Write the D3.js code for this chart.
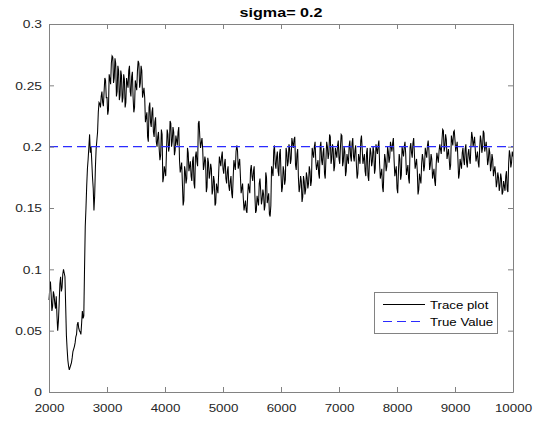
<!DOCTYPE html>
<html>
<head>
<meta charset="utf-8">
<script src="https://cdn.jsdelivr.net/npm/d3@7"></script>
<style>
  html, body { margin: 0; padding: 0; background: #fff; }
  svg { display: block; font-family: "Liberation Sans", Arial, sans-serif; }
</style>
</head>
<body>
<svg id="chart" width="537" height="421"></svg>
<script>
// MCMC trace of sigma, one sample kept every 12.5 iterations from 2000 to 10000
const iterStart = 2000;
const iterStep = 12.5;
const traceValues = [
  0.075, 0.084, 0.090, 0.079, 0.066, 0.070, 0.082, 0.079, 0.072, 0.068, 0.078, 0.062, 0.050, 0.058, 0.072, 0.088, 0.094, 0.082, 0.085, 0.096,
  0.100, 0.097, 0.094, 0.070, 0.046, 0.035, 0.026, 0.021, 0.018, 0.020, 0.022, 0.024, 0.028, 0.033, 0.035, 0.037, 0.040, 0.045, 0.047, 0.055,
  0.057, 0.052, 0.050, 0.049, 0.047, 0.056, 0.066, 0.060, 0.062, 0.100, 0.135, 0.150, 0.168, 0.182, 0.190, 0.200, 0.210, 0.195, 0.200, 0.188,
  0.175, 0.166, 0.148, 0.160, 0.183, 0.198, 0.205, 0.212, 0.228, 0.236, 0.235, 0.232, 0.241, 0.245, 0.236, 0.233, 0.245, 0.256, 0.254, 0.240,
  0.240, 0.226, 0.230, 0.259, 0.255, 0.251, 0.268, 0.274, 0.273, 0.252, 0.256, 0.272, 0.268, 0.241, 0.245, 0.266, 0.262, 0.238, 0.242, 0.262,
  0.258, 0.236, 0.240, 0.259, 0.255, 0.232, 0.236, 0.256, 0.252, 0.248, 0.262, 0.266, 0.245, 0.241, 0.257, 0.261, 0.240, 0.228, 0.232, 0.254,
  0.250, 0.246, 0.262, 0.270, 0.268, 0.248, 0.252, 0.266, 0.262, 0.240, 0.244, 0.248, 0.240, 0.220, 0.224, 0.228, 0.208, 0.204, 0.232, 0.236,
  0.220, 0.216, 0.228, 0.232, 0.212, 0.208, 0.220, 0.224, 0.204, 0.200, 0.208, 0.212, 0.198, 0.189, 0.193, 0.214, 0.210, 0.171, 0.175, 0.184,
  0.180, 0.176, 0.195, 0.214, 0.210, 0.196, 0.200, 0.221, 0.219, 0.200, 0.204, 0.216, 0.212, 0.193, 0.197, 0.209, 0.205, 0.201, 0.212, 0.216,
  0.189, 0.179, 0.183, 0.187, 0.170, 0.152, 0.156, 0.184, 0.180, 0.170, 0.174, 0.199, 0.195, 0.180, 0.184, 0.188, 0.176, 0.172, 0.188, 0.192,
  0.170, 0.166, 0.192, 0.196, 0.188, 0.184, 0.219, 0.221, 0.208, 0.199, 0.203, 0.207, 0.198, 0.181, 0.185, 0.192, 0.188, 0.163, 0.167, 0.191,
  0.187, 0.174, 0.178, 0.186, 0.182, 0.161, 0.165, 0.176, 0.172, 0.152, 0.154, 0.170, 0.166, 0.162, 0.178, 0.192, 0.188, 0.184, 0.192, 0.196,
  0.182, 0.178, 0.186, 0.190, 0.174, 0.170, 0.180, 0.184, 0.168, 0.164, 0.172, 0.176, 0.162, 0.158, 0.174, 0.189, 0.185, 0.181, 0.196, 0.201,
  0.197, 0.182, 0.186, 0.190, 0.176, 0.162, 0.166, 0.170, 0.158, 0.148, 0.152, 0.156, 0.148, 0.146, 0.160, 0.170, 0.166, 0.162, 0.181, 0.185,
  0.176, 0.172, 0.180, 0.184, 0.160, 0.146, 0.148, 0.160, 0.156, 0.152, 0.170, 0.174, 0.164, 0.153, 0.157, 0.165, 0.161, 0.148, 0.152, 0.179,
  0.175, 0.154, 0.158, 0.162, 0.145, 0.143, 0.152, 0.184, 0.180, 0.176, 0.197, 0.201, 0.186, 0.182, 0.192, 0.196, 0.180, 0.176, 0.194, 0.198,
  0.178, 0.163, 0.167, 0.184, 0.180, 0.169, 0.173, 0.199, 0.195, 0.184, 0.188, 0.202, 0.198, 0.186, 0.190, 0.207, 0.203, 0.199, 0.206, 0.208,
  0.185, 0.181, 0.194, 0.198, 0.175, 0.163, 0.167, 0.176, 0.172, 0.155, 0.159, 0.176, 0.172, 0.161, 0.165, 0.179, 0.175, 0.166, 0.170, 0.184,
  0.180, 0.168, 0.172, 0.199, 0.195, 0.191, 0.200, 0.204, 0.188, 0.181, 0.185, 0.189, 0.178, 0.174, 0.200, 0.204, 0.189, 0.185, 0.195, 0.199,
  0.178, 0.174, 0.190, 0.204, 0.200, 0.190, 0.194, 0.210, 0.208, 0.186, 0.190, 0.202, 0.198, 0.180, 0.184, 0.199, 0.195, 0.191, 0.201, 0.205,
  0.190, 0.186, 0.200, 0.210, 0.209, 0.184, 0.188, 0.200, 0.196, 0.176, 0.180, 0.194, 0.190, 0.186, 0.201, 0.205, 0.192, 0.188, 0.203, 0.207,
  0.192, 0.188, 0.197, 0.201, 0.185, 0.174, 0.178, 0.194, 0.190, 0.186, 0.205, 0.209, 0.198, 0.186, 0.190, 0.194, 0.180, 0.176, 0.195, 0.199,
  0.176, 0.172, 0.188, 0.199, 0.195, 0.184, 0.188, 0.200, 0.196, 0.178, 0.182, 0.202, 0.198, 0.194, 0.201, 0.205, 0.186, 0.174, 0.178, 0.182,
  0.167, 0.163, 0.181, 0.194, 0.190, 0.180, 0.184, 0.200, 0.196, 0.187, 0.191, 0.204, 0.200, 0.196, 0.203, 0.207, 0.189, 0.176, 0.180, 0.184,
  0.166, 0.162, 0.180, 0.194, 0.190, 0.173, 0.177, 0.200, 0.196, 0.192, 0.200, 0.204, 0.194, 0.177, 0.181, 0.185, 0.174, 0.170, 0.199, 0.203,
  0.195, 0.191, 0.203, 0.207, 0.194, 0.182, 0.186, 0.190, 0.180, 0.161, 0.165, 0.178, 0.174, 0.170, 0.186, 0.194, 0.190, 0.180, 0.184, 0.199,
  0.195, 0.191, 0.201, 0.205, 0.197, 0.181, 0.185, 0.194, 0.190, 0.174, 0.178, 0.182, 0.172, 0.168, 0.185, 0.195, 0.191, 0.187, 0.196, 0.202,
  0.198, 0.194, 0.205, 0.214, 0.213, 0.196, 0.200, 0.210, 0.206, 0.190, 0.194, 0.198, 0.190, 0.181, 0.185, 0.209, 0.205, 0.201, 0.212, 0.213,
  0.205, 0.196, 0.200, 0.204, 0.190, 0.174, 0.178, 0.190, 0.186, 0.182, 0.195, 0.199, 0.189, 0.185, 0.198, 0.202, 0.187, 0.183, 0.194, 0.198,
  0.190, 0.186, 0.201, 0.212, 0.208, 0.200, 0.204, 0.208, 0.197, 0.188, 0.192, 0.196, 0.187, 0.183, 0.198, 0.209, 0.205, 0.195, 0.199, 0.213,
  0.211, 0.196, 0.200, 0.204, 0.196, 0.185, 0.189, 0.199, 0.195, 0.180, 0.184, 0.194, 0.190, 0.176, 0.180, 0.184, 0.178, 0.167, 0.171, 0.179,
  0.175, 0.164, 0.168, 0.178, 0.174, 0.161, 0.163, 0.172, 0.168, 0.164, 0.176, 0.180, 0.165, 0.163, 0.186, 0.197, 0.193, 0.183, 0.187, 0.196,
  0.192
];
const trueValue = 0.2;
const xTicks = [2000, 3000, 4000, 5000, 6000, 7000, 8000, 9000, 10000];
const yTicks = [0, 0.05, 0.1, 0.15, 0.2, 0.25, 0.3];
const titleText = "sigma= 0.2";
const legendLabels = ["Trace plot", "True Value"];

const svg = d3.select("#chart");
const margin = { left: 49, top: 24, right: 24, bottom: 29 };
const W = 537, H = 421;
const x0 = margin.left, x1 = W - margin.right;
const y0 = H - margin.bottom, y1 = margin.top;

const x = d3.scaleLinear().domain([2000, 10000]).range([x0, x1]);
const y = d3.scaleLinear().domain([0, 0.3]).range([y0, y1]);

const axisColor = "#828282";
const textColor = "#262626";
const fontFamily = "'Liberation Sans', Arial, sans-serif";

// Glyphs in this figure are set a little wide; stretch each label horizontally.
function widen(sel, factor) {
  sel.each(function () {
    const w = this.getComputedTextLength();
    if (w > 0) {
      d3.select(this)
        .attr("textLength", w * factor)
        .attr("lengthAdjust", "spacingAndGlyphs");
    }
  });
}

const data = traceValues.map((v, i) => ({ it: iterStart + i * iterStep, v }));

// data layer
svg.append("path")
  .datum(data)
  .attr("fill", "none")
  .attr("stroke", "#000")
  .attr("stroke-width", 1.05)
  .attr("stroke-linejoin", "miter")
  .attr("d", d3.line().x(d => x(d.it)).y(d => y(d.v)));

svg.append("line")
  .attr("x1", x(2000)).attr("x2", x(10000))
  .attr("y1", y(trueValue)).attr("y2", y(trueValue))
  .attr("stroke", "#2b2bff")
  .attr("stroke-width", 1.2)
  .attr("stroke-dasharray", "9,5");

// axes with inward ticks on all four sides
const tickLen = 5;
const fmtY = d => d === 0 ? "0" : String(d);

const axBottom = svg.append("g").attr("transform", `translate(0,${y0})`)
  .call(d3.axisBottom(x).tickValues(xTicks).tickSizeInner(-tickLen).tickSizeOuter(0).tickPadding(12).tickFormat(d3.format("d")));
const axTop = svg.append("g").attr("transform", `translate(0,${y1})`)
  .call(d3.axisTop(x).tickValues(xTicks).tickSizeInner(-tickLen).tickSizeOuter(0).tickFormat(""));
const axLeft = svg.append("g").attr("transform", `translate(${x0},0)`)
  .call(d3.axisLeft(y).tickValues(yTicks).tickSizeInner(-tickLen).tickSizeOuter(0).tickPadding(7).tickFormat(fmtY));
const axRight = svg.append("g").attr("transform", `translate(${x1},0)`)
  .call(d3.axisRight(y).tickValues(yTicks).tickSizeInner(-tickLen).tickSizeOuter(0).tickFormat(""));

[axBottom, axTop, axLeft, axRight].forEach(g => {
  g.select(".domain").attr("stroke", axisColor).attr("stroke-width", 1);
  g.selectAll(".tick line").attr("stroke", axisColor);
  g.selectAll(".tick text").attr("fill", textColor).attr("font-size", 11.5)
    .attr("font-family", fontFamily);
});
widen(axBottom.selectAll(".tick text"), 1.16);
widen(axLeft.selectAll(".tick text"), 1.2);

// title
const title = svg.append("text")
  .attr("x", (x0 + x1) / 2)
  .attr("y", 16.5)
  .attr("text-anchor", "middle")
  .attr("font-family", fontFamily)
  .attr("font-size", 13)
  .attr("font-weight", "bold")
  .attr("fill", "#000")
  .text(titleText);
widen(title, 1.24);

// legend
const lg = svg.append("g").attr("transform", "translate(374,292)");
lg.append("rect")
  .attr("x", 0.5).attr("y", 0.5).attr("width", 123).attr("height", 41)
  .attr("fill", "#fff").attr("stroke", axisColor);
const styles = [
  { stroke: "#000", dash: null },
  { stroke: "#2b2bff", dash: "9,5" }
];
legendLabels.forEach((lab, i) => {
  const yy = 12.5 + i * 17;
  lg.append("line")
    .attr("x1", 9).attr("x2", 51).attr("y1", yy).attr("y2", yy)
    .attr("stroke", styles[i].stroke).attr("stroke-width", 1)
    .attr("stroke-dasharray", styles[i].dash);
  const t = lg.append("text")
    .attr("x", 56).attr("y", yy + 4.2)
    .attr("font-family", fontFamily)
    .attr("font-size", 11.5).attr("fill", "#000")
    .text(lab);
  widen(t, 1.15);
});
</script>
</body>
</html>
